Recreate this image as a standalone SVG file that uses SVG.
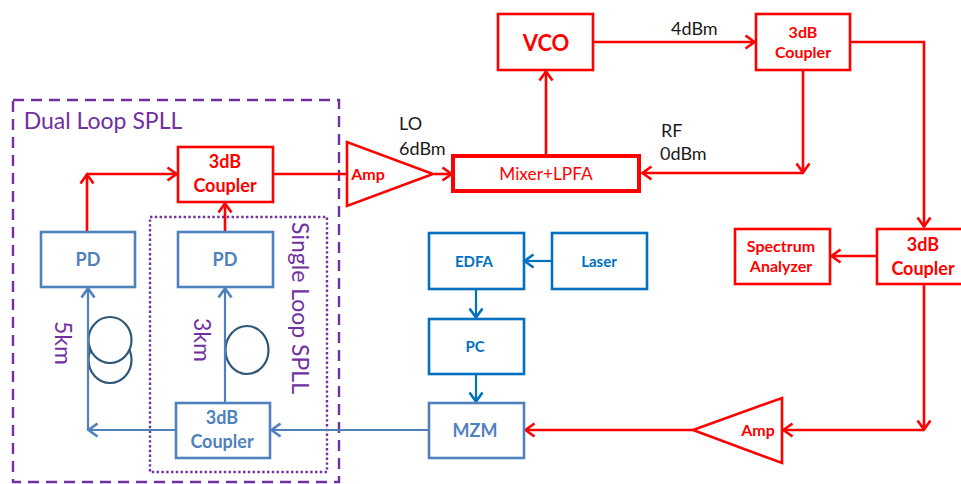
<svg xmlns="http://www.w3.org/2000/svg" width="961" height="484" viewBox="0 0 961 484">
<defs>
<marker id="ar" markerUnits="userSpaceOnUse" markerWidth="16" markerHeight="18" refX="11.5" refY="8" orient="auto"><path d="M2 1.5L11 8L2 14.5" fill="none" stroke="#f00" stroke-width="2.6"/></marker>
<marker id="ab" markerUnits="userSpaceOnUse" markerWidth="16" markerHeight="18" refX="11.5" refY="8" orient="auto"><path d="M2 1.5L11 8L2 14.5" fill="none" stroke="#0070c0" stroke-width="2.6"/></marker>
<marker id="as" markerUnits="userSpaceOnUse" markerWidth="16" markerHeight="18" refX="11.5" refY="8" orient="auto"><path d="M2 1.5L11 8L2 14.5" fill="none" stroke="#4f81bd" stroke-width="2.6"/></marker>
</defs>
<style>
text{font-family:"Lato","Liberation Sans",sans-serif;text-anchor:middle}
.r{fill:none;stroke:#f00;stroke-width:2.6}
.b{fill:none;stroke:#0070c0;stroke-width:2.6}
.s{fill:none;stroke:#4f81bd;stroke-width:2.6}
.tr{fill:#f00;font-weight:700;font-size:18px}
.tm{fill:#f00;font-weight:700;font-size:16px}
.tb{fill:#0070c0;font-weight:700;font-size:15px}
.ts{fill:#4f81bd;font-weight:700;font-size:18px}
.k{fill:#1a1a1a;font-size:18px;text-anchor:start}
.p{fill:#7030a0;font-size:23px}
.cr{stroke:#f00;stroke-width:2.6;fill:none;marker-end:url(#ar)}
.cn{stroke:#f00;stroke-width:2.6;fill:none}
.cb{stroke:#0070c0;stroke-width:2.2;fill:none;marker-end:url(#ab)}
.cs{stroke:#4f81bd;stroke-width:2.2;fill:none;marker-end:url(#as)}
.coil{fill:#fff;stroke:#2f5878;stroke-width:2.2}
</style>
<rect width="961" height="484" fill="#fff"/>
<g id="dual-loop"><rect x="13" y="100" width="326" height="382" fill="none" stroke="#7030a0" stroke-width="2.4" stroke-dasharray="11 7"/><text class="p" x="103" y="129">Dual Loop SPLL</text></g>
<g id="single-loop"><rect x="150" y="217" width="177" height="255" fill="none" stroke="#7030a0" stroke-width="2.4" stroke-dasharray="2.4 2.4"/><text class="p" transform="translate(292 308) rotate(90)">Single Loop SPLL</text></g>
<g id="coil-5km"><ellipse class="coil" cx="110" cy="360" rx="21.5" ry="23"/><ellipse class="coil" cx="110" cy="340" rx="21.5" ry="23"/><text class="p" transform="translate(55 343) rotate(90)">5km</text></g>
<g id="coil-3km"><ellipse class="coil" cx="247" cy="350" rx="21.5" ry="24"/><text class="p" transform="translate(194 340) rotate(90)">3km</text></g>
<g id="connectors">
<path class="cn" d="M273 174H347"/>
<path class="cr" d="M434 174H452"/>
<path class="cr" d="M546 155V71"/>
<path class="cr" d="M593 42H755"/>
<path class="cr" d="M850 42H924V227"/>
<path class="cr" d="M803 70V173"/>
<path class="cr" d="M803 173H642"/>
<path class="cr" d="M877 256H831"/>
<path class="cr" d="M924 284V430"/>
<path class="cr" d="M924 430H783"/>
<path class="cr" d="M693 430H525"/>
<path class="cr" d="M87 232V174"/>
<path class="cr" d="M87 174H177"/>
<path class="cr" d="M225 232V203"/>
<path class="cb" d="M552 261H524"/>
<path class="cb" d="M476 290V318"/>
<path class="cb" d="M476 375V402"/>
<path class="cs" d="M429 430H271"/>
<path class="cs" d="M176 430H88"/>
<path class="cs" d="M88 430V288"/>
<path class="cs" d="M225 403V288"/>
</g>
<g id="coupler-top"><rect class="r" x="178" y="147" width="95" height="55"/><text class="tr" x="225" y="168">3dB</text><text class="tr" x="225" y="192">Coupler</text></g>
<g id="pd-left"><rect class="s" x="41" y="232" width="94" height="55"/><text class="ts" x="88" y="266">PD</text></g>
<g id="pd-right"><rect class="s" x="178" y="232" width="95" height="55"/><text class="ts" x="225" y="266">PD</text></g>
<g id="coupler-blue"><rect class="s" x="176" y="403" width="94" height="55"/><text class="ts" x="222" y="424">3dB</text><text class="ts" x="222" y="448">Coupler</text></g>
<g id="amp-left"><path class="r" d="M347 142V206L433 174Z"/><text class="tm" x="368" y="180">Amp</text></g>
<g id="mixer"><rect class="r" x="453" y="156" width="186" height="35" style="stroke-width:4"/><text x="546" y="180" fill="#f00" font-size="17.3">Mixer+LPFA</text></g>
<g id="vco"><rect class="r" x="498" y="14" width="95" height="56"/><text x="546" y="51" fill="#f00" font-weight="700" font-size="22">VCO</text></g>
<g id="coupler-vco"><rect class="r" x="756" y="14" width="94" height="56"/><text class="tm" x="803" y="38">3dB</text><text class="tm" x="803" y="58">Coupler</text></g>
<g id="coupler-right"><rect class="r" x="877" y="229" width="90" height="55"/><text class="tr" x="923" y="251">3dB</text><text class="tr" x="923" y="275">Coupler</text></g>
<g id="spectrum"><rect class="r" x="735" y="229" width="95" height="55"/><text class="tm" x="781" y="252">Spectrum</text><text class="tm" x="781" y="272">Analyzer</text></g>
<g id="edfa"><rect class="b" x="429" y="233" width="95" height="56"/><text class="tb" x="474" y="267">EDFA</text></g>
<g id="laser"><rect class="b" x="552" y="233" width="95" height="56"/><text class="tb" x="599" y="267">Laser</text></g>
<g id="pc"><rect class="b" x="429" y="319" width="95" height="55"/><text class="tb" x="475" y="352">PC</text></g>
<g id="mzm"><rect class="s" x="429" y="403" width="95" height="55"/><text class="ts" x="475" y="437">MZM</text></g>
<g id="amp-right"><path class="r" d="M782 398V463L693 430Z"/><text class="tm" x="758" y="436">Amp</text></g>
<g id="labels"><text class="k" x="399" y="130">LO</text><text class="k" x="399" y="155">6dBm</text><text class="k" x="661" y="137">RF</text><text class="k" x="660" y="160">0dBm</text><text class="k" x="671" y="35">4dBm</text></g>
</svg>
